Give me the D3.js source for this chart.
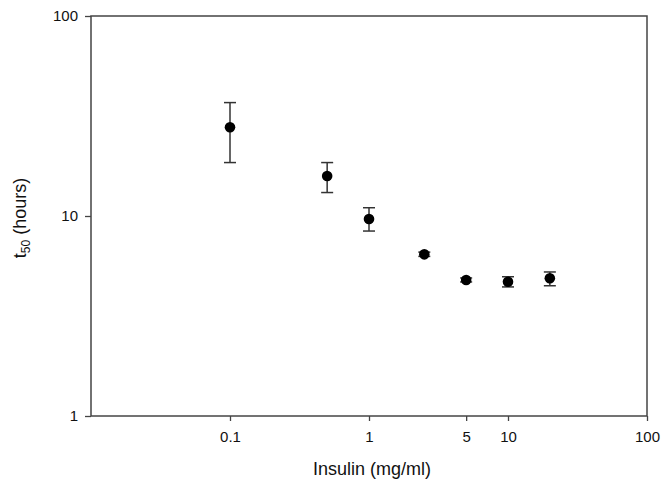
<!DOCTYPE html>
<html>
<head>
<meta charset="utf-8">
<script src="https://cdn.jsdelivr.net/npm/d3@7"></script>
<style>
  body { margin: 0; background: #fff; }
  svg { font-family: "Liberation Sans", Arial, sans-serif; }
</style>
</head>
<body>
<svg id="chart" width="671" height="483"></svg>
<script>
const insulin = [0.1, 0.5, 1, 2.5, 5, 10, 20];
const t50 = [27.8, 15.85, 9.66, 6.43, 4.79, 4.69, 4.88];
const errHigh = [36.9, 18.5, 11.0, 6.6, 4.9, 4.97, 5.25];
const errLow = [18.5, 13.1, 8.41, 6.28, 4.68, 4.42, 4.48];
const xTicks = [0.1, 1, 5, 10, 100];
const yTicks = [1, 10, 100];

const svg = d3.select("#chart"),
  margin = { top: 16, right: 24, bottom: 67, left: 91 },
  width = +svg.attr("width") - margin.left - margin.right,
  height = +svg.attr("height") - margin.top - margin.bottom;

const axisColor = "#444";

const chart = svg
  .append("g")
  .attr("transform", `translate(${margin.left},${margin.top})`);

const x = d3.scaleLog().domain([0.01, 100]).range([0, width]);
const y = d3.scaleLog().domain([1, 100]).range([height, 0]);

const data = insulin.map((d, i) => ({
  x: d,
  y: t50[i],
  hi: errHigh[i],
  lo: errLow[i],
}));

// frame
chart
  .append("rect")
  .attr("width", width)
  .attr("height", height)
  .attr("fill", "none")
  .attr("stroke", axisColor)
  .attr("stroke-width", 1.5);

const xAxis = chart
  .append("g")
  .attr("transform", `translate(0,${height})`)
  .call(d3.axisBottom(x).tickValues(xTicks).tickSize(5).tickPadding(10).tickFormat((d) => d));
xAxis.select(".domain").remove();
xAxis.selectAll("line").attr("stroke", axisColor).attr("stroke-width", 1.3);
xAxis.selectAll("text").attr("font-size", 15).attr("fill", "#111");

const yAxis = chart
  .append("g")
  .call(d3.axisLeft(y).tickValues(yTicks).tickSize(6).tickPadding(7).tickFormat((d) => d));
yAxis.select(".domain").remove();
yAxis.selectAll("line").attr("stroke", axisColor).attr("stroke-width", 1.3);
yAxis.selectAll("text").attr("font-size", 15).attr("fill", "#111");

// error bars
const eb = chart.append("g").attr("stroke", "#333").attr("stroke-width", 1.5);
eb.selectAll("line.v")
  .data(data)
  .join("line")
  .attr("class", "v")
  .attr("x1", (d) => x(d.x))
  .attr("x2", (d) => x(d.x))
  .attr("y1", (d) => y(d.hi))
  .attr("y2", (d) => y(d.lo));
eb.selectAll("line.top")
  .data(data)
  .join("line")
  .attr("class", "top")
  .attr("x1", (d) => x(d.x) - 6)
  .attr("x2", (d) => x(d.x) + 6)
  .attr("y1", (d) => y(d.hi))
  .attr("y2", (d) => y(d.hi));
eb.selectAll("line.bot")
  .data(data)
  .join("line")
  .attr("class", "bot")
  .attr("x1", (d) => x(d.x) - 6)
  .attr("x2", (d) => x(d.x) + 6)
  .attr("y1", (d) => y(d.lo))
  .attr("y2", (d) => y(d.lo));

chart
  .selectAll("circle.point")
  .data(data)
  .join("circle")
  .attr("class", "point")
  .attr("cx", (d) => x(d.x))
  .attr("cy", (d) => y(d.y))
  .attr("r", 5.3)
  .attr("fill", "#000");

// labels
svg
  .append("text")
  .attr("text-anchor", "middle")
  .attr("x", 372)
  .attr("y", 475)
  .attr("font-size", 18)
  .attr("fill", "#111")
  .text("Insulin (mg/ml)");

const yl = svg
  .append("text")
  .attr("text-anchor", "middle")
  .attr("transform", `translate(26,${margin.top + height / 2 + 2}) rotate(-90)`)
  .attr("font-size", 18)
  .attr("fill", "#111");
yl.append("tspan").text("t");
yl.append("tspan").attr("font-size", 12).attr("dy", 4).text("50");
yl.append("tspan").attr("dy", -4).text(" (hours)");
</script>
</body>
</html>
